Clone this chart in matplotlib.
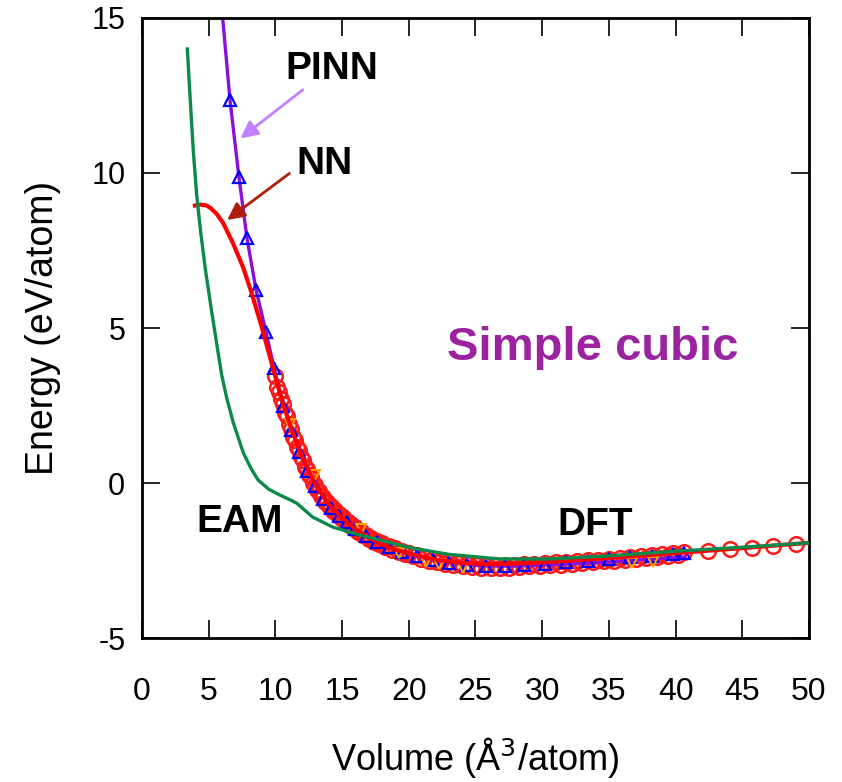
import matplotlib
matplotlib.use("Agg")
import matplotlib.pyplot as plt

plt.rcParams["font.family"] = ["Liberation Sans", "DejaVu Sans"]
plt.rcParams["axes.unicode_minus"] = False

# DFT reference (red circles)
dft_V = [10.0, 10.3, 10.6, 10.9, 11.2, 11.5, 11.8, 12.1, 12.4, 12.7, 13.0, 13.3,
         13.6, 13.9, 14.2, 14.5, 14.8, 15.1, 15.4, 15.7, 16.0, 16.4, 16.8, 17.2,
         17.6, 18.0, 18.5, 19.0, 19.5, 20.0, 20.6, 21.2, 21.8, 22.4, 23.0, 23.7,
         24.4, 25.1, 25.8, 26.5, 27.2, 27.9, 28.6, 29.4, 30.2, 31.0, 31.8, 32.6,
         33.4, 34.2, 35.0, 35.8, 36.6, 37.4, 38.2, 39.0, 39.8, 40.6, 42.4, 44.1,
         45.7, 47.3, 49.0]
dft_E = [3.45, 2.95, 2.55, 2.15, 1.75, 1.40, 1.05, 0.75, 0.45, 0.18, -0.05, -0.27,
         -0.45, -0.60, -0.75, -0.88, -1.00, -1.10, -1.22, -1.33, -1.42, -1.55, -1.67, -1.77,
         -1.86, -1.94, -2.03, -2.11, -2.18, -2.25, -2.32, -2.39, -2.45, -2.50, -2.55, -2.59,
         -2.62, -2.65, -2.66, -2.66, -2.65, -2.64, -2.62, -2.60, -2.58, -2.56, -2.54, -2.52,
         -2.49, -2.47, -2.44, -2.41, -2.38, -2.35, -2.32, -2.29, -2.26, -2.23, -2.19, -2.13,
         -2.09, -2.03, -1.98]
# second DFT set (other configurations, overlapping band)
dft2_V = [10.15, 10.45, 10.75, 11.05, 11.35, 11.65, 11.95, 12.25, 12.55, 12.85, 13.15,
          13.45, 13.75, 14.05, 14.35, 14.65, 14.95, 15.25, 15.55, 15.85, 16.2, 16.6,
          17.0, 17.4, 17.8, 18.25, 18.75, 19.25, 19.75, 20.3, 20.9, 21.5, 22.1, 22.7,
          23.35, 24.05, 24.75, 25.45, 26.15, 26.85, 27.55, 28.25, 29.0, 29.8, 30.6,
          31.4, 32.2, 33.0, 33.8, 34.6, 35.4, 36.2, 37.0, 37.8, 38.6, 39.4, 40.2]
dft2_E = [3.1, 2.7, 2.25, 1.9, 1.5, 1.15, 0.85, 0.52, 0.25, 0.0, -0.22, -0.42, -0.6,
          -0.75, -0.9, -1.01, -1.12, -1.24, -1.35, -1.45, -1.57, -1.69, -1.8, -1.9,
          -1.98, -2.07, -2.15, -2.23, -2.3, -2.37, -2.44, -2.5, -2.56, -2.61, -2.65,
          -2.69, -2.72, -2.74, -2.74, -2.74, -2.73, -2.71, -2.69, -2.67, -2.65, -2.63,
          -2.61, -2.58, -2.56, -2.53, -2.5, -2.48, -2.44, -2.41, -2.38, -2.35, -2.32]

# PINN predictions (blue triangles) and PINN curve
pinn_pts_V = [6.6, 7.27, 7.87, 8.55, 9.3, 9.9, 10.6, 11.2, 11.8, 12.4, 13.0, 13.6,
              14.2, 14.8, 15.4, 16.0, 16.8, 17.6, 18.5, 19.5, 20.6, 21.8, 23.0, 24.4,
              25.8, 27.2, 28.6, 30.2, 31.8, 33.4, 35.0, 36.6, 38.2, 39.8, 40.6]
pinn_pts_E = [12.35, 9.87, 7.9, 6.23, 4.87, 3.71, 2.5, 1.7, 1.0, 0.4, -0.1, -0.5,
              -0.8, -1.05, -1.27, -1.47, -1.72, -1.9, -2.07, -2.22, -2.36, -2.48, -2.58, -2.64,
              -2.68, -2.67, -2.64, -2.6, -2.55, -2.5, -2.45, -2.4, -2.34, -2.29, -2.26]
pinn_V = [6.05, 6.6, 7.27, 7.87, 8.55, 9.3, 9.9, 10.5, 11.2, 12.0, 13.0, 14.0, 15.0,
          16.0, 17.0, 18.0, 19.0, 20.0, 22.0, 24.0, 26.0, 28.0, 30.0, 32.0, 34.0,
          36.0, 38.0, 40.7]
pinn_E = [15.0, 12.35, 9.87, 7.9, 6.23, 4.87, 3.71, 2.7, 1.75, 0.8, -0.08, -0.7, -1.12,
          -1.48, -1.78, -2.0, -2.17, -2.31, -2.5, -2.62, -2.68, -2.68, -2.65, -2.61, -2.57,
          -2.52, -2.46, -2.38]

# NN curve
nn_V = [3.97, 4.4, 4.85, 5.2, 5.6, 6.08, 6.82, 7.57, 8.22, 9.0, 9.8, 10.5, 11.2,
        12.0, 13.0, 14.0, 15.0, 16.0, 17.0, 18.0, 19.0, 20.0, 22.0, 24.0, 26.0,
        28.0, 30.0, 33.0, 36.0, 40.0, 45.0, 50.0]
nn_E = [8.95, 8.98, 8.95, 8.85, 8.68, 8.39, 7.74, 6.97, 6.13, 5.0, 3.74, 2.65, 1.75,
        0.85, -0.05, -0.68, -1.12, -1.48, -1.76, -1.98, -2.15, -2.28, -2.47, -2.58, -2.62,
        -2.6, -2.56, -2.48, -2.38, -2.26, -2.1, -1.93]

# EAM curve
eam_V = [3.4, 3.6, 3.85, 4.1, 4.4, 4.75, 5.2, 5.6, 5.97, 6.35, 6.85, 7.6, 8.2, 8.7,
         9.5, 10.35, 11.0, 11.6, 12.8, 14.3, 16.1, 17.85, 20.0, 23.0, 26.8, 30.6,
         35.0, 40.0, 45.0, 50.0]
eam_E = [14.0, 12.5, 10.7, 9.3, 8.1, 6.9, 5.6, 4.5, 3.5, 2.75, 1.94, 0.97, 0.45, 0.1,
         -0.2, -0.39, -0.52, -0.65, -1.1, -1.42, -1.65, -1.84, -2.08, -2.3, -2.45, -2.45,
         -2.35, -2.2, -2.07, -1.93]

# extra orange markers
other_V = [11.1, 13.0, 16.4, 19.3, 21.3, 22.3, 24.1, 36.7, 38.3]
other_E = [1.9, 0.25, -1.47, -2.27, -2.54, -2.61, -2.74, -2.59, -2.54]

fig = plt.figure(figsize=(8.42, 7.82), dpi=100)
ax = fig.add_axes([0.1686, 0.1841, 0.7922, 0.7929])

ax.plot(dft_V, dft_E, "o", ms=10.5, mfc="none", mec="#ff1a1a", mew=1.8, zorder=1)
ax.plot(dft2_V, dft2_E, "o", ms=10.5, mfc="none", mec="#ff1a1a", mew=1.8, zorder=1)
ax.plot(pinn_V, pinn_E, "-", color="#8a10d8", lw=2.4, zorder=2)
ax.plot(pinn_pts_V, pinn_pts_E, "^", ms=8, mfc="none", mec="#0000ff", mew=1.6, zorder=3)
ax.plot(other_V, other_E, "v", ms=7, mfc="none", mec="#ffa500", mew=1.4, zorder=3)
ax.plot(nn_V, nn_E, "-", color="#ff0000", lw=3.0, zorder=4)
ax.plot(eam_V, eam_E, "-", color="#0b8a4c", lw=2.4, zorder=5)

ax.annotate("", xy=(7.22, 11.06), xytext=(12.22, 12.74),
            arrowprops=dict(arrowstyle="-|>", color="#c080ff", lw=2,
                            mutation_scale=26))
ax.annotate("", xy=(6.22, 8.43), xytext=(11.22, 10.04),
            arrowprops=dict(arrowstyle="-|>", color="#b21c0a", lw=2,
                            mutation_scale=26))

ax.text(14.2, 13.35, "PINN", fontsize=28, fontweight="bold", ha="center", va="center")
ax.text(13.7, 10.3, "NN", fontsize=28, fontweight="bold", ha="center", va="center")
ax.text(33.8, 4.34, "Simple cubic", fontsize=34, fontweight="bold",
        color="#9b23a0", ha="center", va="center")
ax.text(7.35, -1.26, "EAM", fontsize=28, fontweight="bold", ha="center", va="center")
ax.text(34.0, -1.35, "DFT", fontsize=28, fontweight="bold", ha="center", va="center")

ax.set_xlim(0, 50)
ax.set_ylim(-5, 15)
ax.set_xticks(range(0, 51, 5))
ax.set_yticks([-5, 0, 5, 10, 15])
ax.tick_params(direction="in", length=13, width=1.2, top=True, right=True,
               labelsize=22)
ax.tick_params(axis="x", pad=28, labelsize=23)
ax.tick_params(axis="y", pad=12)
for s in ax.spines.values():
    s.set_linewidth(2)

ax.set_xlabel("Volume (Å$^3$/atom)", fontsize=26, labelpad=20)
ax.set_ylabel("Energy (eV/atom)", fontsize=27, labelpad=22)

fig.savefig("out.png", dpi=100)
